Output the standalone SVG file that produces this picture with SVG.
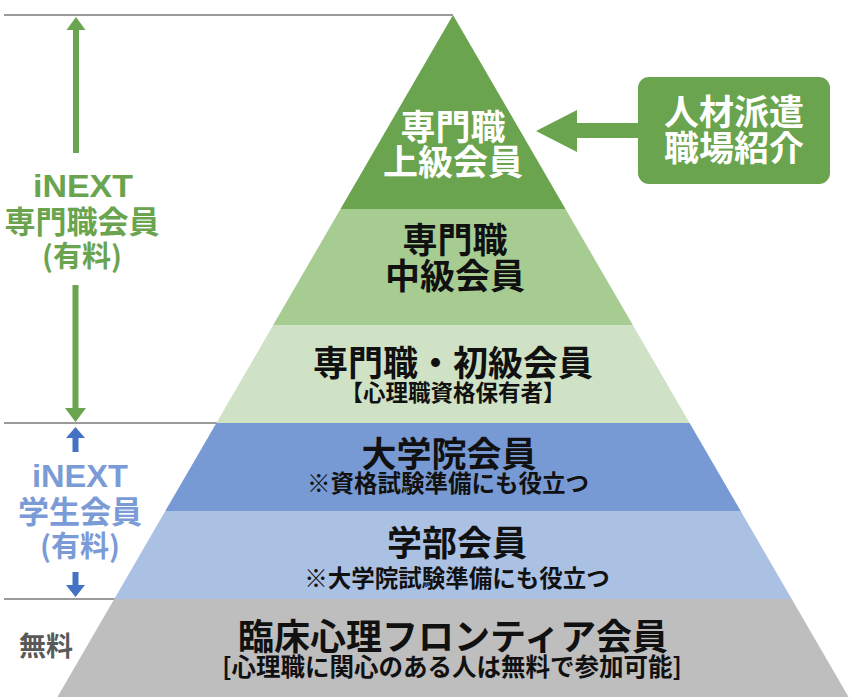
<svg xmlns="http://www.w3.org/2000/svg" width="860" height="697" viewBox="0 0 860 697">
<style>
.jp{font-family:"Noto Sans CJK JP","Noto Sans",sans-serif;font-weight:bold;text-anchor:middle}
.lat{font-family:"Liberation Sans",Arial,sans-serif;font-weight:bold;text-anchor:middle}
.g{fill:#6AA44F}
.b{fill:#7B9BD6}
.k{fill:#111111}
.w{fill:#FFFFFF}
.sep{stroke:#9A9A9A;stroke-width:2;fill:none}
</style>
<rect width="860" height="697" fill="#FFFFFF"/>
<g id="separators">
<line class="sep" x1="4" y1="15" x2="453" y2="15"/>
<line class="sep" x1="4" y1="423" x2="217" y2="423"/>
<line class="sep" x1="4" y1="599" x2="115" y2="599"/>
</g>
<g id="level-top">
<polygon points="453,15 565.5,209 340.5,209" fill="#6AA44F"/>
<text class="jp w" x="453" y="140" font-size="35">専門職</text>
<text class="jp w" x="453" y="175" font-size="35">上級会員</text>
</g>
<g id="level-middle">
<polygon points="340.5,209 565.5,209 632.8,325 273.2,325" fill="#A7CC91"/>
<text class="jp k" x="455" y="253" font-size="35">専門職</text>
<text class="jp k" x="455" y="289" font-size="35">中級会員</text>
</g>
<g id="level-entry">
<polygon points="273.2,325 632.8,325 689.6,423 216.4,423" fill="#CFE2C5"/>
<text class="jp k" x="453" y="376" font-size="35">専門職・初級会員</text>
<text class="jp k" x="453" y="401" font-size="22.5">【心理職資格保有者】</text>
</g>
<g id="level-graduate">
<polygon points="216.4,423 689.6,423 740.7,511 165.3,511" fill="#789AD4"/>
<text class="jp k" x="449" y="467" font-size="35">大学院会員</text>
<text class="jp k" x="448" y="492" font-size="23.5">※資格試験準備にも役立つ</text>
</g>
<g id="level-undergrad">
<polygon points="165.3,511 740.7,511 791.7,599 114.3,599" fill="#ABC1E4"/>
<text class="jp k" x="457" y="556" font-size="35">学部会員</text>
<text class="jp k" x="457" y="587" font-size="23.5">※大学院試験準備にも役立つ</text>
</g>
<g id="level-frontier">
<polygon points="114.3,599 791.7,599 848.6,697 57.4,697" fill="#BEBEBE"/>
<text class="jp k" x="453" y="650" font-size="36">臨床心理フロンティア会員</text>
<text class="jp k" x="452" y="676" font-size="24.5">[心理職に関心のある人は無料で参加可能]</text>
</g>
<g id="label-professional">
<text class="lat g" x="83" y="197" font-size="32" textLength="100" lengthAdjust="spacingAndGlyphs">iNEXT</text>
<text class="jp g" x="82" y="233" font-size="31">専門職会員</text>
<text class="jp g" x="82" y="267" font-size="29">(有料)</text>
</g>
<g id="label-student">
<text class="lat b" x="80" y="487" font-size="32" textLength="96" lengthAdjust="spacingAndGlyphs">iNEXT</text>
<text class="jp b" x="80" y="523" font-size="31">学生会員</text>
<text class="jp b" x="80" y="557" font-size="29">(有料)</text>
</g>
<g id="label-free">
<text class="jp" x="46" y="656" font-size="27" fill="#595959">無料</text>
</g>
<g id="box-dispatch">
<rect x="638" y="77" width="192" height="107" rx="11" ry="11" fill="#6AA44F"/>
<text class="jp w" x="734" y="125" font-size="35">人材派遣</text>
<text class="jp w" x="734" y="161" font-size="35">職場紹介</text>
</g>
<g id="connectors">
<polygon points="76,17 85.5,30 79,30 79,153 73,153 73,30 66.5,30" fill="#6AA44F"/>
<polygon points="72.5,285 78.5,285 78.5,408 86,408 75.5,422 65,408 72.5,408" fill="#6AA44F"/>
<polygon points="75.5,427 85,438 78.5,438 78.5,452 72.5,452 72.5,438 66,438" fill="#4472C4"/>
<polygon points="72.5,572 78.5,572 78.5,585 85,585 75.5,597 66,585 72.5,585" fill="#4472C4"/>
<polygon points="638,123 577,123 577,110 536,131 577,152 577,138 638,138" fill="#6AA44F"/>
</g>
</svg>
